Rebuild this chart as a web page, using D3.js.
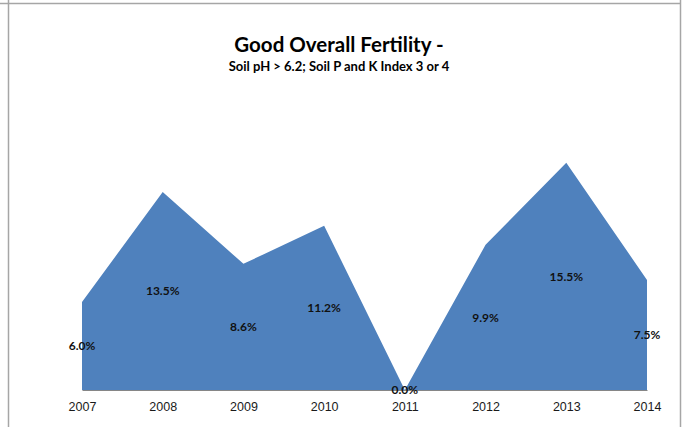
<!DOCTYPE html>
<html>
<head>
<meta charset="utf-8">
<script src="https://cdn.jsdelivr.net/npm/d3@7"></script>
<style>
  body { margin: 0; background: #fff; }
  svg { display: block; font-family: Lato, "Open Sans", sans-serif; }
  .year { font-size: 12.5px; fill: #1a1a1a; }
  .val { font-size: 12px; font-weight: bold; fill: #111; }
</style>
</head>
<body>
<script>
// data
const years = ['2007', '2008', '2009', '2010', '2011', '2012', '2013', '2014']
const values = [6.0, 13.5, 8.6, 11.2, 0.0, 9.9, 15.5, 7.5]

const width = 683
const height = 427
const margin = {left: 82, right: 36, top: 126, bottom: 37}

const svg = d3.select('body').append('svg')
  .attr('width', width)
  .attr('height', height)

// frame lines
svg.append('line')
  .attr('x1', 0).attr('x2', 681)
  .attr('y1', 3.5).attr('y2', 3.5)
  .attr('stroke', '#a6a6a6').attr('stroke-width', 1.5)
svg.append('line')
  .attr('x1', 8.5).attr('x2', 8.5)
  .attr('y1', 0).attr('y2', 427)
  .attr('stroke', '#a6a6a6').attr('stroke-width', 1.5)
svg.append('line')
  .attr('x1', 680.5).attr('x2', 680.5)
  .attr('y1', 0).attr('y2', 427)
  .attr('stroke', '#a6a6a6').attr('stroke-width', 1.5)

// titles
svg.append('text')
  .attr('x', 339).attr('y', 52)
  .attr('text-anchor', 'middle')
  .style('font-size', '20.5px').style('font-weight', 'bold')
  .text('Good Overall Fertility -')
svg.append('text')
  .attr('x', 339).attr('y', 71)
  .attr('text-anchor', 'middle')
  .style('font-size', '13px').style('font-weight', 'bold')
  .text('Soil pH > 6.2; Soil P and K Index 3 or 4')

const xScale = d3.scalePoint()
  .domain(years)
  .range([margin.left, width - margin.right])

const yScale = d3.scaleLinear()
  .domain([0, 18])
  .range([height - margin.bottom, margin.top])

const data = years.map((y, i) => ({year: y, value: values[i]}))

const area = d3.area()
  .x(d => xScale(d.year))
  .y0(yScale(0))
  .y1(d => yScale(d.value))

svg.append('path')
  .datum(data)
  .attr('d', area)
  .attr('fill', '#4f81bd')

// category axis
const xAxis = d3.axisBottom(xScale).tickSize(0).tickPadding(12)
const gx = svg.append('g')
  .attr('transform', `translate(0, ${yScale(0)})`)
  .call(xAxis)
gx.select('.domain').attr('stroke', '#868686').attr('stroke-width', 1.2)
gx.selectAll('text').attr('class', 'year').attr('font-family', null).attr('font-size', null)

// data labels at mid height
svg.append('g').selectAll('text')
  .data(data)
  .enter()
  .append('text')
  .attr('class', 'val')
  .attr('x', d => xScale(d.year))
  .attr('y', d => yScale(d.value / 2))
  .attr('dy', '0.35em')
  .attr('text-anchor', 'middle')
  .text(d => d.value.toFixed(1) + '%')
</script>
</body>
</html>
